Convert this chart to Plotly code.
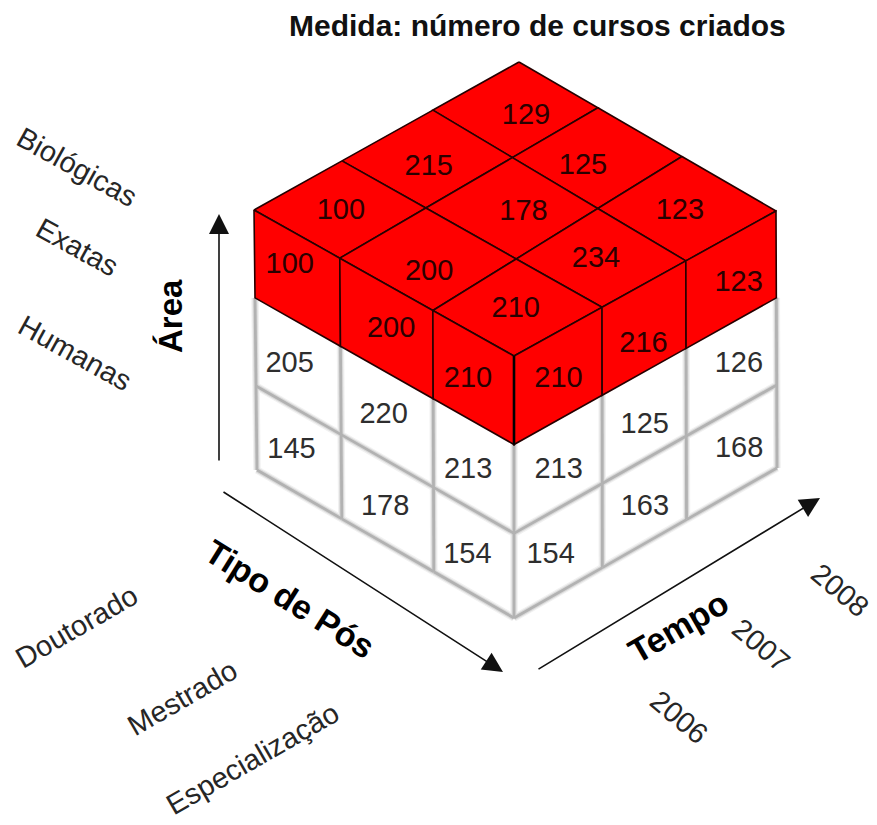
import plotly.graph_objects as go

# Cell values of the cube
TOP_VALUES = [[129, 125, 123],
              [215, 178, 234],
              [100, 200, 210]]
LEFT_VALUES = [[100, 200, 210],
               [205, 220, 213],
               [145, 178, 154]]
RIGHT_VALUES = [[210, 216, 123],
                [213, 125, 126],
                [154, 163, 168]]

AREA_LABELS = ["Biológicas", "Exatas", "Humanas"]
POS_LABELS = ["Doutorado", "Mestrado", "Especialização"]
TIME_LABELS = ["2006", "2007", "2008"]
TITLE = "Medida: número de cursos criados"

# Projection of the cube onto the page: eight corners and the grid spacing
TOP_BACK, TOP_LEFT, TOP_RIGHT, TOP_FRONT = (519, 62), (254, 210), (776, 211), (514, 356)
BASE_BACK, BASE_LEFT, BASE_RIGHT, BASE_FRONT = (522, 322), (257, 470), (777, 468), (514, 618)
P_STEPS_NEAR_Q0 = [0, 0.325, 0.668, 1]
P_STEPS_NEAR_Q3 = [0, 0.344, 0.664, 1]
Q_STEPS_NEAR_P0 = [0, 0.307, 0.634, 1]
Q_STEPS_NEAR_P3 = [0, 0.33, 0.688, 1]
K_STEPS = [0, 0.338, 0.677, 1]

# Small per-label shifts of the numbers inside their cells
TOP_SHIFT = [[(10, 5), (-15, 7), (-6, 1)],
             [(0, 7), (10, 2), (-5, -1)],
             [(0, 0), (0, 12), (-1, 0)]]
LEFT_SHIFT = [[(-8, -14), (4, -1), (-6, 0)],
              [(-9, -3), (-4, -3), (-6, 3)],
              [(-8, -4), (-3, 3), (-7, 1)]]
RIGHT_SHIFT = [[(0, 2), (-1, 15), (7, 2)],
               [(0, 5), (0, 8), (7, -4)],
               [(-8, 3), (0, 4), (7, -4)]]
TEXT_BASELINE_SHIFT = (0.5, 2)

RED = "#ff0000"
EDGE = "#260000"
WIRE_LAYERS = (("#f1f1f1", 7.5), ("#dadada", 5), ("#b2b2b2", 2.8))
LABEL_FONT = "Liberation Sans"


def mix(a, b, t):
    return a + (b - a) * t


def frac(steps, value):
    whole = int(value)
    if whole >= len(steps) - 1:
        return steps[-1]
    return mix(steps[whole], steps[whole + 1], value - whole)


def project(p, q, k):
    """Map grid position (p, q, level k) to page coordinates."""
    qn = q / 3
    pn = p / 3
    fp = mix(frac(P_STEPS_NEAR_Q0, p), frac(P_STEPS_NEAR_Q3, p), qn)
    fq = mix(frac(Q_STEPS_NEAR_P0, q), frac(Q_STEPS_NEAR_P3, q), pn)
    fk = frac(K_STEPS, k)
    out = []
    for axis in (0, 1):
        top = mix(mix(TOP_BACK[axis], TOP_RIGHT[axis], fq),
                  mix(TOP_LEFT[axis], TOP_FRONT[axis], fq), fp)
        base = mix(mix(BASE_BACK[axis], BASE_RIGHT[axis], fq),
                   mix(BASE_LEFT[axis], BASE_FRONT[axis], fq), fp)
        out.append(mix(top, base, fk))
    return tuple(out)


def polygon(points, fill, line, width):
    xs = [pt[0] for pt in points] + [points[0][0]]
    ys = [pt[1] for pt in points] + [points[0][1]]
    return go.Scatter(x=xs, y=ys, mode="lines", fill="toself" if fill else None,
                      fillcolor=fill, line=dict(color=line, width=width),
                      hoverinfo="skip", showlegend=False)


def segment(a, b, color, width):
    return go.Scatter(x=[a[0], b[0]], y=[a[1], b[1]], mode="lines",
                      line=dict(color=color, width=width),
                      hoverinfo="skip", showlegend=False)


def left_cell(q, k):
    return [project(3, q, k), project(3, q + 1, k), project(3, q + 1, k + 1), project(3, q, k + 1)]


def right_cell(col, k):
    # columns run from the front corner towards the right-hand corner
    p = 3 - col
    return [project(p, 3, k), project(p - 1, 3, k), project(p - 1, 3, k + 1), project(p, 3, k + 1)]


def centre(points):
    return (sum(pt[0] for pt in points) / 4, sum(pt[1] for pt in points) / 4)


fig = go.Figure()

# Lower two layers: soft grey wireframe
for color, width in WIRE_LAYERS:
    for k in (1, 2):
        for q in range(3):
            fig.add_trace(segment(project(3, q, k + 1), project(3, q + 1, k + 1), color, width))
            fig.add_trace(segment(project(3 - q, 3, k + 1), project(2 - q, 3, k + 1), color, width))
    for step in range(4):
        fig.add_trace(segment(project(3, step, 1), project(3, step, 3), color, width))
        if step < 3:
            fig.add_trace(segment(project(step, 3, 1), project(step, 3, 3), color, width))

# Selected slice: red top layer
for p in range(3):
    for q in range(3):
        cell = [project(p, q, 0), project(p, q + 1, 0), project(p + 1, q + 1, 0), project(p + 1, q, 0)]
        fig.add_trace(polygon(cell, RED, EDGE, 1.6))
for i in range(3):
    fig.add_trace(polygon(left_cell(i, 0), RED, EDGE, 1.6))
    fig.add_trace(polygon(right_cell(i, 0), RED, EDGE, 1.6))
fig.add_trace(segment(project(3, 3, 0), project(3, 3, 1), "#000000", 2.6))


def number_trace(cells, values, shifts, color):
    xs, ys, texts = [], [], []
    for cell, value, shift in zip(cells, values, shifts):
        cx, cy = centre(cell)
        xs.append(cx + shift[0] + TEXT_BASELINE_SHIFT[0])
        ys.append(cy + shift[1] + TEXT_BASELINE_SHIFT[1])
        texts.append(str(value))
    return go.Scatter(x=xs, y=ys, text=texts, mode="text", textposition="middle center",
                      textfont=dict(family=LABEL_FONT, size=29, color=color),
                      hoverinfo="skip", showlegend=False)


# Numbers on the top face
top_cells, top_vals, top_shifts = [], [], []
for p in range(3):
    for q in range(3):
        top_cells.append([project(p, q, 0), project(p, q + 1, 0), project(p + 1, q + 1, 0), project(p + 1, q, 0)])
        top_vals.append(TOP_VALUES[p][q])
        top_shifts.append(TOP_SHIFT[p][q])
fig.add_trace(number_trace(top_cells, top_vals, top_shifts, "#2a0000"))

# Numbers on the two side faces, one trace per level so the colour can follow the layer
for k in range(3):
    color = "#2a0000" if k == 0 else "#2e2e2e"
    fig.add_trace(number_trace([left_cell(q, k) for q in range(3)], LEFT_VALUES[k], LEFT_SHIFT[k], color))
    fig.add_trace(number_trace([right_cell(c, k) for c in range(3)], RIGHT_VALUES[k], RIGHT_SHIFT[k], color))


def rotated(text, x, y, angle, size=29, bold=False, color="#262626"):
    fig.add_annotation(x=x, y=y, xref="x", yref="y", text=f"<b>{text}</b>" if bold else text,
                       textangle=angle, showarrow=False, xanchor="center", yanchor="middle",
                       font=dict(family=LABEL_FONT, size=size, color=color))


def arrow(tail, head):
    fig.add_annotation(x=head[0], y=head[1], ax=tail[0], ay=tail[1], xref="x", yref="y",
                       axref="x", ayref="y", text="", showarrow=True, arrowhead=2,
                       arrowsize=2.5, arrowwidth=1.6, arrowcolor="#111111", standoff=0)


# Member labels along each dimension; the outermost ones stay clear of the page edges
for label, pos in zip(AREA_LABELS, [(77, 167), (77, 247), (75, 353)]):
    rotated(label, pos[0], pos[1], 29)
for label, pos in zip(POS_LABELS, [(76, 627), (182, 698), (252, 759)]):
    rotated(label, pos[0], pos[1], -30)
for label, pos in zip(TIME_LABELS, [(679, 717), (761, 645), (840, 590)]):
    rotated(label, pos[0], pos[1], 40)

# Dimension names and arrows
rotated("Área", 170, 316, -90, size=33, bold=True, color="#000000")
rotated("Tipo de Pós", 290, 599, 32, size=34, bold=True, color="#000000")
rotated("Tempo", 678, 627, -30, size=34, bold=True, color="#000000")
arrow((219, 462), (219, 214))
arrow((222, 491), (503, 672))
arrow((537, 670), (820, 498))

rotated(TITLE, 537, 25, 0, size=30, bold=True, color="#111111")

fig.update_layout(
    width=877, height=825, margin=dict(l=0, r=0, t=0, b=0),
    paper_bgcolor="white", plot_bgcolor="white", showlegend=False,
    xaxis=dict(range=[0, 877], visible=False, fixedrange=True),
    yaxis=dict(range=[825, 0], visible=False, fixedrange=True),
)
fig.write_html("out.html", config=dict(displayModeBar=False))
